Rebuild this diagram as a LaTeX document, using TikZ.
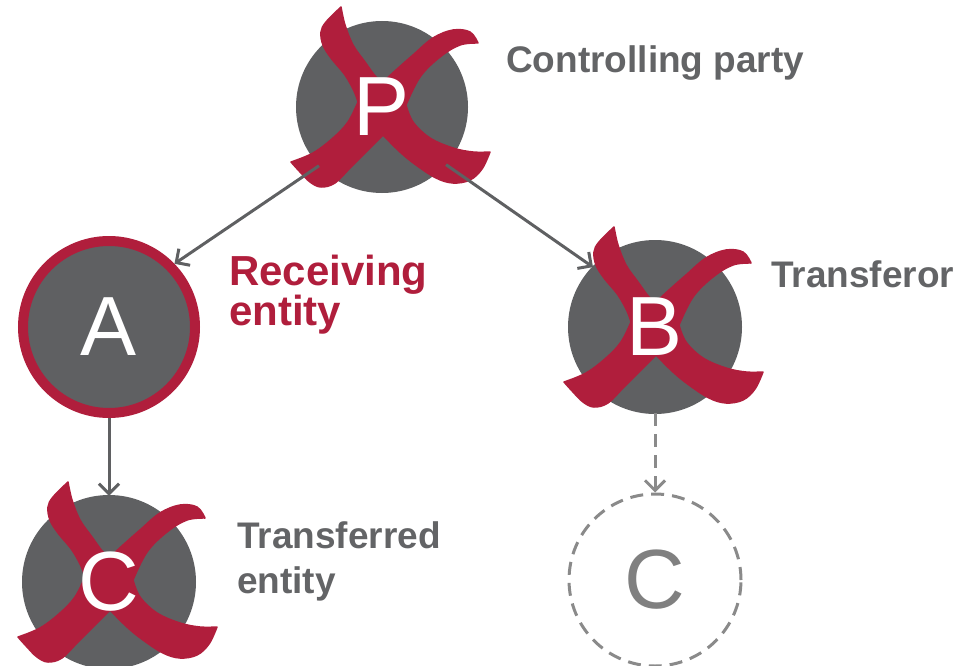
\documentclass[tikz,border=0pt]{standalone}
\usepackage{fontspec}
\setmainfont{Liberation Sans}
\usetikzlibrary{arrows.meta}
\definecolor{xred}{RGB}{176,30,60}
\definecolor{cgray}{RGB}{95,96,98}
\definecolor{tgray}{RGB}{99,100,102}
\definecolor{dgray}{RGB}{138,138,138}
\definecolor{lgray}{RGB}{128,128,128}
\pgfdeclarelayer{bg}
\pgfdeclarelayer{mid}
\pgfsetlayers{bg,mid,main}
\begin{document}
\begin{tikzpicture}[x=1pt,y=-1pt,
  ent/.style={circle, minimum size=172pt, inner sep=0pt, text=white, font=\fontsize{84}{84}\selectfont},
  lbl/.style={anchor=base west, inner sep=0pt, align=left, text=tgray, font=\bfseries\fontsize{37}{45}\selectfont},
  arr/.style={draw=cgray, line width=3pt, -{Straight Barb[length=10pt,width=20pt]}},
  darr/.style={draw=dgray, line width=3pt, dash pattern=on 13pt off 8pt, -{Straight Barb[length=10pt,width=20pt]}},
  xmark/.pic={
    \filldraw[xred, line width=1.5pt, line join=round]
      plot[smooth,tension=0.6] coordinates{(-41,-100) (-37,-82) (-29,-62) (-17,-45) (-6,-30) (1,-25)}
      -- plot[smooth,tension=0.6] coordinates{(1,-25) (14,-37) (31,-52) (51,-69) (71,-77) (88,-75) (96,-64)}
      -- plot[smooth,tension=0.6] coordinates{(96,-64) (78,-62) (58,-50) (38,-30) (24,-2)}
      -- plot[smooth,tension=0.6] coordinates{(24,-2) (31,15) (48,31) (71,41) (91,45) (108,45)}
      -- plot[smooth,tension=0.6] coordinates{(108,45) (100,62) (88,73) (71,76) (54,71) (34,58) (18,45) (1,28)}
      -- plot[smooth,tension=0.6] coordinates{(1,28) (-16,45) (-32,61) (-47,76) (-61,80) (-72,75) (-82,65) (-91,55)}
      -- plot[smooth,tension=0.6] coordinates{(-91,55) (-69,46) (-49,31) (-34,15) (-24,-5)}
      -- plot[smooth,tension=0.6] coordinates{(-24,-5) (-28,-16) (-37,-32) (-51,-49) (-59,-62) (-61,-75) (-56,-85) (-41,-100)}
      -- cycle;
  }
]
\useasboundingbox (0,0) rectangle (979,666);

% entities
\node[ent] (P) at (382,107) {P};
\node[ent, fill=cgray, draw=xred, line width=10pt, minimum size=172pt] (A) at (109,327) {A};
\node[ent] (B) at (655,327) {B};
\node[ent] (C) at (109,582) {C};
\node[ent, text=lgray, draw=dgray, line width=3pt, dash pattern=on 13pt off 8pt] (C2) at (655,580) {C};

\begin{pgfonlayer}{bg}
  \fill[cgray] (P.center) circle[radius=86pt];
  \fill[cgray] (B.center) circle[radius=87pt];
  \fill[cgray] (C.center) circle[radius=87pt];
\end{pgfonlayer}
\begin{pgfonlayer}{mid}
  \pic at (P.center) {xmark};
  \pic at (B.center) {xmark};
  \pic at (C.center) {xmark};
\end{pgfonlayer}

% labels
\node[lbl] (ctrl) at (506,73) {Controlling party};
\node[lbl] (tor) at (771,287) {Transferor};
\node[lbl, text=xred, font=\bfseries\fontsize{42}{40}\selectfont] (recv) at (229,325) {Receiving\\entity};
\node[lbl] (ted) at (237,593) {Transferred\\entity};

% connectors
\draw[arr] (P.223) -- (A.44);
\draw[arr] (P.318) -- (B.136);
\draw[arr] (A.south) -- (C.north);
\draw[darr] (B.south) -- (C2.north);
\end{tikzpicture}
\end{document}
